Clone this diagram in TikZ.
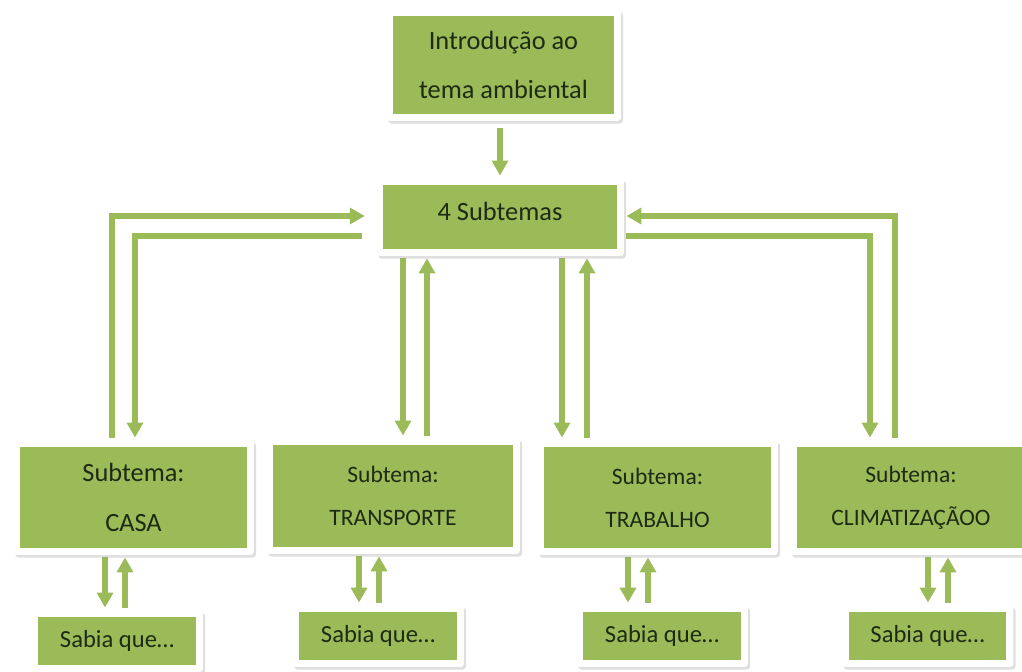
\documentclass[tikz,border=0pt]{standalone}
\usepackage{fontspec}
\setmainfont{Carlito}
\usepackage{tikz}
\usetikzlibrary{positioning,arrows.meta,calc,backgrounds,shadows}
\definecolor{boxgreen}{HTML}{9BBB59}
\definecolor{inkdark}{HTML}{1E2A12}
\tikzset{
  sb/.style={rectangle, rounded corners=2pt, fill=white, align=center, text=inkdark, inner sep=0pt,
             drop shadow={shadow xshift=1.2pt, shadow yshift=-1.5pt, opacity=.25},
             path picture={\fill[boxgreen, sharp corners] ([shift={(4pt,4pt)}]path picture bounding box.south west)
                 rectangle ([shift={(-4pt,-4pt)}]path picture bounding box.north east);}},
  sb big/.style={sb, font=\fontsize{15}{28}\selectfont},
  sb sub/.style={sb, font=\fontsize{13.4}{24.4}\selectfont},
  sb tip/.style={sb, font=\fontsize{14}{16}\selectfont, minimum width=3.44cm, minimum height=1.24cm},
  sb arr/.style={-{Triangle[length=8.5pt, width=9pt]}, line width=3pt, boxgreen, shorten <=1.2pt, shorten >=1.2pt},
}
\begin{document}
\begin{tikzpicture}[x=0.02cm, y=-0.02cm]
  \useasboundingbox (0,0) rectangle (1022,672);
  % top of the tree
  \node[sb big, minimum width=4.70cm, minimum height=2.24cm] (intro) at (503.5,65) {Introdução ao\\tema ambiental};
  \node[sb big, minimum width=4.96cm, minimum height=1.56cm, text depth=6pt] (sub) at (500,217) {4 Subtemas};
  % the four subthemes
  \node[sb big, minimum width=4.82cm, minimum height=2.30cm] (casa) at (133.5,497.5) {Subtema:\\CASA};
  \node[sb sub, minimum width=5.08cm, minimum height=2.32cm] (transp) at (393,496) {Subtema:\\TRANSPORTE};
  \node[sb sub, minimum width=4.82cm, minimum height=2.30cm] (trab) at (657.5,497.5) {Subtema:\\TRABALHO};
  \node[sb sub, minimum width=4.84cm, minimum height=2.30cm] (clima) at (911,497.5) {Subtema:\\CLIMATIZAÇÃOO};
  % "sabia que" boxes
  \node[sb tip] (sabA) at (117,641) {Sabia que…};
  \node[sb tip] (sabB) at (378,636) {Sabia que…};
  \node[sb tip] (sabC) at (662,636) {Sabia que…};
  \node[sb tip] (sabD) at (927.5,636) {Sabia que…};
  \begin{scope}[on background layer]
    \draw[sb arr, shorten <=4pt] (intro.south -| 500,0) -- (sub.north -| 500,0);
    \draw[sb arr, shorten >=6.2pt] (casa.north -| 112,0) |- (sub.west |- 0,216);
    \draw[sb arr, shorten <=8pt] (sub.west |- 0,236) -| (casa.north -| 135,0);
    \draw[sb arr] (clima.north -| 895,0) |- (sub.east |- 0,216);
    \draw[sb arr] (sub.east |- 0,236) -| (clima.north -| 870,0);
    \draw[sb arr] (sub.south -| 403,0) -- (transp.north -| 403,0);
    \draw[sb arr] (transp.north -| 427,0) -- (sub.south -| 427,0);
    \draw[sb arr] (sub.south -| 562,0) -- (trab.north -| 562,0);
    \draw[sb arr] (trab.north -| 587,0) -- (sub.south -| 587,0);
    \foreach \sn/\tn/\dn/\up in {casa/sabA/105/125, transp/sabB/359/379, trab/sabC/628/648, clima/sabD/928/948} {
      \draw[sb arr] (\sn.south -| \dn,0) -- (\tn.north -| \dn,0);
      \draw[sb arr] (\tn.north -| \up,0) -- (\sn.south -| \up,0);
    }
  \end{scope}
\end{tikzpicture}
\end{document}
